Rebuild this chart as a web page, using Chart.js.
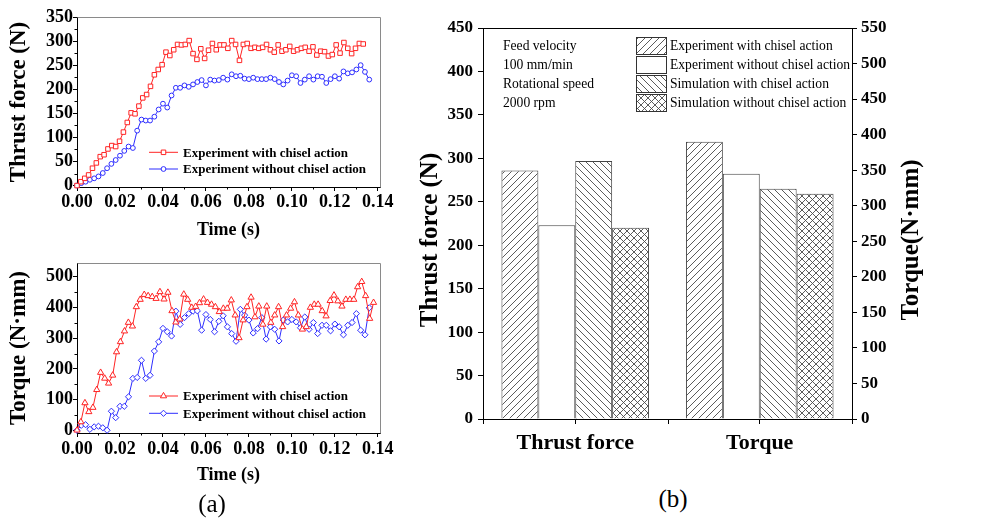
<!DOCTYPE html>
<html>
<head>
<meta charset="utf-8">
<script src="https://cdn.jsdelivr.net/npm/chart.js@4.4.1/dist/chart.umd.min.js"></script>
<style>
  body { margin: 0; background: #fff; width: 1005px; height: 519px; position: relative; overflow: hidden; font-family: 'Liberation Serif', serif; }
  .box { position: absolute; }
  .lab { position: absolute; font-size: 25px; transform: translate(-50%, -50%); color: #000; }
</style>
</head>
<body>
<div class="box" style="left:0;top:0;width:400px;height:245px"><canvas id="thrustChart"></canvas></div>
<div class="box" style="left:0;top:245px;width:400px;height:250px"><canvas id="torqueChart"></canvas></div>
<div class="box" style="left:410px;top:0;width:595px;height:480px"><canvas id="barChart"></canvas></div>
<div class="lab" style="left:212px;top:504px">(a)</div>
<div class="lab" style="left:673px;top:499px">(b)</div>
<script>
// ---- (a) time histories ----
const tRedTop = [0,0.0018,0.0036,0.0054,0.0072,0.009,0.0108,0.0126,0.0144,0.0162,0.018,0.0198,0.0216,0.0234,0.0252,0.027,0.0288,0.0306,0.0324,0.0342,0.036,0.0378,0.0396,0.0414,0.0432,0.045,0.0468,0.0486,0.0504,0.0522,0.054,0.0558,0.0576,0.0594,0.0612,0.063,0.0648,0.0666,0.0684,0.0702,0.072,0.0738,0.0756,0.0774,0.0792,0.081,0.0828,0.0846,0.0864,0.0882,0.09,0.0918,0.0936,0.0954,0.0972,0.099,0.1008,0.1026,0.1044,0.1062,0.108,0.1098,0.1116,0.1134,0.1152,0.117,0.1188,0.1206,0.1224,0.1242,0.126,0.1278,0.1296,0.1314,0.1332];
const thrustWith = [0,8,15,22,36,47,60,64,76,83,81,92,111,131,151,149,165,182,189,206,230,241,251,277,270,282,293,292,293,301,274,262,284,264,281,295,282,292,292,285,301,293,260,293,295,285,287,285,287,293,282,277,292,279,282,289,279,282,285,287,279,288,271,279,278,269,272,292,275,297,285,274,285,295,294];

const tBlue = [0,0.002,0.004,0.006,0.008,0.01,0.012,0.014,0.016,0.018,0.02,0.022,0.024,0.026,0.028,0.03,0.032,0.034,0.036,0.038,0.04,0.042,0.044,0.046,0.048,0.05,0.052,0.054,0.056,0.058,0.06,0.062,0.064,0.066,0.068,0.07,0.072,0.074,0.076,0.078,0.08,0.082,0.084,0.086,0.088,0.09,0.092,0.094,0.096,0.098,0.1,0.102,0.104,0.106,0.108,0.11,0.112,0.114,0.116,0.118,0.12,0.122,0.124,0.126,0.128,0.13,0.132,0.134,0.136];
const thrustWithout = [0,5,8,12,15,19,26,36,45,53,62,72,81,78,114,137,135,135,143,158,170,162,187,203,203,208,205,210,215,219,208,220,218,219,224,220,231,227,228,222,221,224,221,221,221,224,221,215,210,218,229,227,213,220,227,220,227,226,213,221,227,222,237,233,235,241,250,236,220];

const tRedBot = [0,0.0018,0.0037,0.0055,0.0074,0.0092,0.011,0.0129,0.0147,0.0166,0.0184,0.0202,0.0221,0.0239,0.0258,0.0276,0.0294,0.0313,0.0331,0.035,0.0368,0.0386,0.0405,0.0423,0.0442,0.046,0.0478,0.0497,0.0515,0.0534,0.0552,0.057,0.0589,0.0607,0.0626,0.0644,0.0662,0.0681,0.0699,0.0718,0.0736,0.0754,0.0773,0.0791,0.081,0.0828,0.0846,0.0865,0.0883,0.0902,0.092,0.0938,0.0957,0.0975,0.0994,0.1012,0.103,0.1049,0.1067,0.1086,0.1104,0.1122,0.1141,0.1159,0.1178,0.1196,0.1214,0.1233,0.1251,0.127,0.1288,0.1306,0.1325,0.1343,0.1362,0.138];
const torqueWith = [0,27,89,60,74,132,188,169,153,179,255,288,323,351,339,402,426,442,438,435,429,451,427,449,389,352,362,443,426,400,403,415,427,416,410,402,386,397,397,424,375,301,359,402,433,369,404,345,404,351,375,402,337,375,397,418,375,329,337,400,410,410,389,372,422,440,421,404,426,426,426,467,484,438,364,416];
const torqueWithout = [0,16,18,3,11,13,8,0,62,41,78,78,109,169,172,228,169,179,258,288,332,321,307,388,345,367,380,388,389,326,377,361,321,355,373,337,315,290,394,375,359,317,331,367,297,337,329,291,359,353,361,353,334,369,329,351,315,342,342,324,346,337,311,342,351,380,326,311,399];

const lineLabels = ['Experiment with chisel action', 'Experiment without chisel action'];
const timeMinor = [0.01, 0.03, 0.05, 0.07, 0.09, 0.11, 0.13];
const thrustMinor = [25, 75, 125, 175, 225, 275, 325];
const torqueMinor = [50, 150, 250, 350, 450];

// ---- (b) averages ----
const barCategories = ['Thrust force', 'Torque'];
const barSeries = ['Experiment with chisel action', 'Experiment without chisel action', 'Simulation with chisel action', 'Simulation without chisel action'];
const thrustMeans = [286, 223, 297, 220];
const torqueMeans = [390, 345, 324, 317];
const conditionLines = ['Feed velocity', '100 mm/min', 'Rotational speed', '2000 rpm'];

Chart.defaults.font.family = "'Liberation Serif', 'Times New Roman', serif";
Chart.defaults.color = '#000';
Chart.defaults.animation = false;

const RED = '#ff2424';
const BLUE = '#2d2dff';
const bold = (size) => ({ size: size, weight: 'bold', lineHeight: 1 });

// top and right edges of the plot box + little minor ticks
const framePlugin = {
  id: 'frame',
  afterDraw(chart, args, o) {
    const { ctx, chartArea: a } = chart;
    ctx.save();
    ctx.lineWidth = 1;
    ctx.strokeStyle = o.color;
    ctx.beginPath();
    ctx.moveTo(Math.round(a.left) + 0.5, Math.round(a.top) + 0.5);
    ctx.lineTo(Math.round(a.right) + 0.5, Math.round(a.top) + 0.5);
    if (o.right) ctx.lineTo(Math.round(a.right) + 0.5, Math.round(a.bottom) + 0.5);
    ctx.stroke();
    ctx.strokeStyle = '#000';
    (o.minor || []).forEach(m => {
      const s = chart.scales[m.axis];
      m.values.forEach(v => {
        const p = Math.round(s.getPixelForValue(v)) + 0.5;
        ctx.beginPath();
        if (s.isHorizontal()) {
          ctx.moveTo(p, a.bottom); ctx.lineTo(p, a.bottom + m.len);
        } else {
          ctx.moveTo(a.left, p); ctx.lineTo(a.left - m.len, p);
        }
        ctx.stroke();
      });
    });
    ctx.restore();
  }
};

const lineLegend = {
  id: 'lineLegend',
  afterDraw(chart, args, o) {
    const { ctx, chartArea: a } = chart;
    ctx.save();
    ctx.font = 'bold 13px "Liberation Serif", serif';
    ctx.textBaseline = 'middle';
    chart.data.datasets.forEach((ds, i) => {
      const x0 = a.left + o.x;
      const y = a.top + o.y + i * o.rowH;
      ctx.strokeStyle = ds.borderColor;
      ctx.lineWidth = 1;
      ctx.beginPath(); ctx.moveTo(x0, y); ctx.lineTo(x0 + 29, y); ctx.stroke();
      ctx.fillStyle = '#fff';
      Chart.helpers.drawPoint(ctx, { pointStyle: ds.pointStyle, radius: ds.pointRadius, borderWidth: 1, rotation: 0 }, x0 + 14.5, y);
      ctx.fillStyle = '#000';
      ctx.fillText(ds.label, x0 + 34, y + 1);
    });
    ctx.restore();
  }
};

function lineSet(label, ts, ys, color, style, r) {
  return {
    label: label,
    data: ts.map((t, i) => ({ x: t, y: ys[i] })),
    borderColor: color,
    borderWidth: 1,
    pointStyle: style,
    pointRadius: r,
    pointBorderColor: color,
    pointBackgroundColor: '#fff',
    pointBorderWidth: 1,
    tension: 0,
    clip: false
  };
}

function lineOptions(yTitle, yMin, yMax, yStep, yMinor, legendY, legendRow, titlePadBottom, tickPad, xHeight) {
  return {
    responsive: true,
    maintainAspectRatio: false,
    events: [],
    layout: { padding: { top: 17, right: 20, left: 0, bottom: 0 } },
    scales: {
      x: {
        type: 'linear', min: 0, max: 0.141,
        ticks: { stepSize: 0.02, includeBounds: false, autoSkip: false, maxRotation: 0, font: bold(18), padding: tickPad, callback: v => v.toFixed(2) },
        grid: { drawOnChartArea: false, tickLength: 4, color: '#000' },
        border: { color: '#000' },
        title: { display: true, text: 'Time (s)', font: bold(18), padding: { top: 0, bottom: titlePadBottom } },
        afterFit: s => { s.height = xHeight; }
      },
      y: {
        min: yMin, max: yMax,
        ticks: { stepSize: yStep, includeBounds: false, font: bold(18), padding: 0 },
        grid: { drawOnChartArea: false, tickLength: 4, color: '#000' },
        border: { color: '#000' },
        title: { display: true, text: yTitle, font: { size: 23, weight: 'bold', lineHeight: 1 }, padding: { top: 8, bottom: 0 } },
        afterFit: s => { s.width = 77; }
      }
    },
    plugins: {
      legend: { display: false },
      tooltip: { enabled: false },
      frame: { color: '#8a8a8a', right: true, minor: [{ axis: 'x', values: timeMinor, len: 2.5 }, { axis: 'y', values: yMinor, len: 2.5 }] },
      lineLegend: { x: 72, y: legendY, rowH: legendRow }
    }
  };
}

new Chart('thrustChart', {
  type: 'line',
  data: { datasets: [
    lineSet(lineLabels[0], tRedTop, thrustWith, RED, 'rect', 3.2),
    lineSet(lineLabels[1], tBlue, thrustWithout, BLUE, 'circle', 2.4)
  ] },
  options: lineOptions('Thrust force (N)', -3, 350, 50, thrustMinor, 135.3, 16.7, 6, 2, 58),
  plugins: [framePlugin, lineLegend]
});

const torqueOpts = lineOptions('Torque (N\u00b7mm)', -9, 545, 100, torqueMinor, 133, 17.3, 11, 3, 62);
torqueOpts.layout.padding.top = 18;
new Chart('torqueChart', {
  type: 'line',
  data: { datasets: [
    lineSet(lineLabels[0], tRedBot, torqueWith, RED, 'triangle', 3.6),
    lineSet(lineLabels[1], tBlue, torqueWithout, BLUE, 'rectRot', 3.1)
  ] },
  options: torqueOpts,
  plugins: [framePlugin, lineLegend]
});

// ---- (b) bar chart ----
const barCanvas = document.getElementById('barChart');
const barCtx = barCanvas.getContext('2d');

function hatch(kind) {
  const s = 7;
  const c = document.createElement('canvas');
  c.width = s; c.height = s;
  const g = c.getContext('2d');
  g.fillStyle = '#fff';
  g.fillRect(0, 0, s, s);
  g.strokeStyle = '#4a4a4a';
  g.lineWidth = 0.9;
  g.beginPath();
  if (kind === 'fwd' || kind === 'cross') {
    g.moveTo(-1, s + 1); g.lineTo(s + 1, -1);
    g.moveTo(-1, 1); g.lineTo(1, -1);
    g.moveTo(s - 1, s + 1); g.lineTo(s + 1, s - 1);
  }
  if (kind === 'back' || kind === 'cross') {
    g.moveTo(-1, -1); g.lineTo(s + 1, s + 1);
    g.moveTo(s - 1, -1); g.lineTo(s + 1, 1);
    g.moveTo(-1, s - 1); g.lineTo(1, s + 1);
  }
  g.stroke();
  return barCtx.createPattern(c, 'repeat');
}

const fills = [hatch('fwd'), '#ffffff', hatch('back'), hatch('cross')];

const barSets = [];
barSeries.forEach((name, i) => {
  barSets.push({ label: name, data: [thrustMeans[i], null], yAxisID: 'y', stack: 's' + i,
    backgroundColor: fills[i], borderColor: '#444', borderWidth: 1 });
});
barSeries.forEach((name, i) => {
  barSets.push({ label: name, data: [null, torqueMeans[i]], yAxisID: 'y1', stack: 's' + i,
    backgroundColor: fills[i], borderColor: '#444', borderWidth: 1 });
});

const barExtras = {
  id: 'barExtras',
  afterDraw(chart, args, o) {
    const { ctx, chartArea: a } = chart;
    ctx.save();
    // legend boxes
    ctx.font = '13.6px "Liberation Serif", serif';
    ctx.textBaseline = 'middle';
    chart.data.datasets.filter(d => d.yAxisID === 'y').forEach((ds, i) => {
      const x = a.left + 153, y = a.top + 9 + i * 19;
      ctx.fillStyle = ds.backgroundColor;
      ctx.fillRect(x, y, 30, 17);
      ctx.strokeStyle = '#333';
      ctx.lineWidth = 1;
      ctx.strokeRect(x + 0.5, y + 0.5, 30, 17);
      ctx.fillStyle = '#000';
      ctx.fillText(ds.label, x + 34, y + 9);
    });
    // test conditions
    conditionLines.forEach((t, i) => ctx.fillText(t, a.left + 20, a.top + 18 + i * 19));
    // axis titles, both read bottom to top
    ctx.font = 'bold 25px "Liberation Serif", serif';
    ctx.textAlign = 'center';
    [[21, o.left], [502, o.right]].forEach(([x, text]) => {
      ctx.save();
      ctx.translate(x, 240);
      ctx.rotate(-Math.PI / 2);
      ctx.fillText(text, 0, 0);
      ctx.restore();
    });
    ctx.restore();
  }
};

new Chart(barCtx, {
  type: 'bar',
  data: { labels: barCategories, datasets: barSets },
  options: {
    responsive: true,
    maintainAspectRatio: false,
    events: [],
    barPercentage: 1,
    categoryPercentage: 0.8,
    layout: { padding: { top: 28, right: 0, left: 0, bottom: 0 } },
    scales: {
      x: {
        offset: true,
        ticks: { font: bold(22), padding: 8 },
        grid: { drawOnChartArea: false, offset: false, tickLength: 5, color: '#000' },
        border: { color: '#000' },
        afterFit: s => { s.height = 61; }
      },
      y: {
        position: 'left', min: 0, max: 450,
        ticks: { stepSize: 50, font: bold(17), padding: 5 },
        grid: { drawOnChartArea: false, tickLength: 5, color: '#000' },
        border: { color: '#000' },
        afterFit: s => { s.width = 73; }
      },
      y1: {
        position: 'right', min: 0, max: 550,
        ticks: { stepSize: 50, font: bold(17), padding: 4 },
        grid: { drawOnChartArea: false, tickLength: 5, color: '#000' },
        border: { color: '#000' },
        afterFit: s => { s.width = 153; }
      }
    },
    plugins: {
      legend: { display: false },
      tooltip: { enabled: false },
      frame: { color: '#000', right: false, minor: [{ axis: 'x', values: [-0.5, 0.5, 1.5], len: 5 }] },
      barExtras: { left: 'Thrust force (N)', right: 'Torque(N\u00b7mm)' }
    }
  },
  plugins: [framePlugin, barExtras]
});
</script>
</body>
</html>
